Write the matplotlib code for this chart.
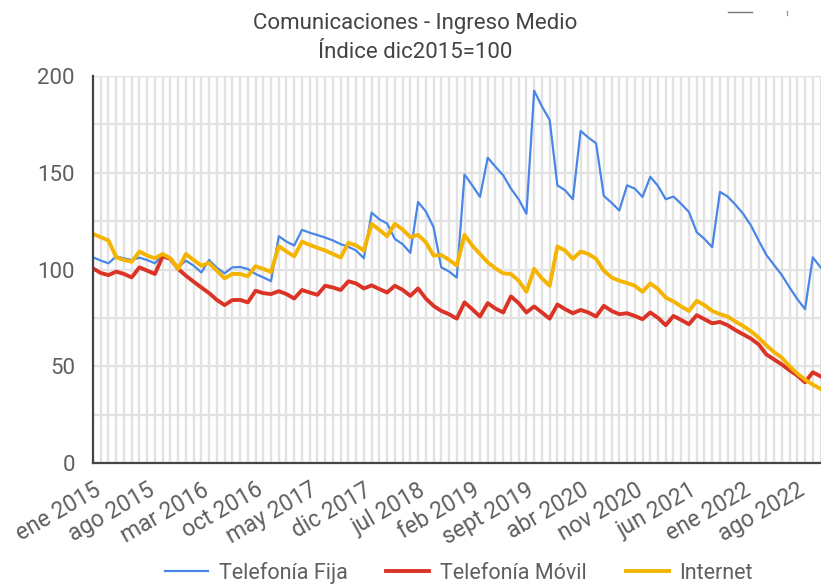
import numpy as np
import matplotlib
matplotlib.use("Agg")
import matplotlib.pyplot as plt
from matplotlib.lines import Line2D

plt.rcParams['font.family'] = ['Roboto', 'DejaVu Sans']

# Indice dic2015=100, mensual desde ene 2015
fija = [106.3, 104.6, 103.2, 106.8, 105.8, 104.9, 106.1, 104.9, 103.2, 107.5,
        105.5, 101.1, 104.6, 102.0, 98.5, 104.9, 100.9, 98.0, 101.1, 101.3,
        100.3, 97.7, 95.9, 94.0, 117.2, 114.4, 112.4, 120.5, 119.0, 117.8,
        116.5, 115.0, 113.1, 111.7, 109.8, 105.8, 129.4, 125.9, 123.8, 115.8,
        113.1, 108.6, 134.9, 130.0, 121.9, 101.1, 99.0, 95.8, 149.1, 143.5,
        137.5, 157.8, 153.1, 148.7, 141.8, 136.3, 128.8, 192.4, 184.3, 177.3,
        143.5, 140.9, 136.3, 171.6, 168.2, 165.2, 138.0, 134.5, 130.5, 143.5,
        141.8, 137.5, 147.9, 143.2, 136.3, 137.7, 133.9, 129.7, 119.3, 115.8,
        111.5, 140.1, 137.7, 133.5, 128.8, 122.8, 115.0, 107.5, 102.3, 97.1,
        90.7, 84.7, 79.5, 106.3, 101.1]

movil = [100.6, 98.2, 97.1, 98.9, 97.7, 95.9, 101.1, 99.4, 97.7, 106.8,
         105.5, 100.3, 96.8, 93.7, 90.7, 87.8, 84.3, 81.6, 84.2, 84.3,
         83.0, 89.0, 87.8, 87.3, 88.8, 87.3, 85.0, 89.4, 88.1, 86.9,
         91.6, 90.7, 89.4, 93.9, 92.8, 90.2, 91.8, 89.9, 88.1, 91.6,
         89.5, 86.4, 90.2, 85.0, 81.2, 78.6, 76.9, 74.6, 83.0, 79.5,
         75.7, 82.6, 79.8, 77.8, 86.1, 82.6, 77.8, 80.9, 77.8, 74.6,
         81.9, 79.5, 77.4, 79.1, 77.8, 75.7, 81.2, 78.6, 76.9, 77.4,
         76.0, 74.3, 77.8, 75.0, 71.2, 76.0, 73.9, 71.7, 76.4, 74.3,
         72.2, 72.9, 71.2, 68.7, 66.5, 64.3, 61.3, 56.1, 53.5, 50.9,
         47.9, 45.2, 41.7, 46.9, 44.8]

internet = [118.4, 116.7, 115.0, 106.3, 104.9, 104.0, 109.3, 107.2, 105.8, 108.0,
            105.8, 100.3, 108.0, 104.9, 102.0, 103.4, 99.4, 95.4, 97.7, 97.7,
            96.5, 101.7, 100.3, 98.7, 112.0, 109.3, 106.8, 114.4, 112.7, 111.2,
            109.8, 108.0, 106.2, 113.8, 112.4, 109.8, 123.6, 120.5, 117.2, 123.6,
            120.7, 116.7, 117.9, 114.1, 107.2, 107.5, 105.0, 102.0, 117.9, 112.4,
            108.0, 103.7, 100.6, 98.0, 97.7, 94.2, 88.5, 100.3, 95.4, 91.6,
            111.9, 109.8, 105.5, 109.3, 108.0, 105.5, 99.4, 95.9, 94.2, 93.0,
            91.6, 88.5, 92.8, 89.9, 85.5, 83.5, 80.9, 78.6, 83.8, 81.6,
            78.6, 76.9, 75.7, 73.1, 70.8, 68.1, 64.8, 60.8, 57.3, 54.4,
            50.0, 46.2, 43.1, 40.5, 38.3]

etiquetas = ['ene 2015', 'ago 2015', 'mar 2016', 'oct 2016', 'may 2017',
             'dic 2017', 'jul 2018', 'feb 2019', 'sept 2019', 'abr 2020',
             'nov 2020', 'jun 2021', 'ene 2022', 'ago 2022']

x = np.arange(len(fija))
gris = '#5f5f5f'

fig = plt.figure(figsize=(8.21, 5.88), dpi=100)
ax = fig.add_axes([93/821, 125/588, 1 - 93/821, (463 - 76)/588])

ax.plot(x, fija, color='#4a86e8', lw=1.6, label='Telefonía Fija', zorder=3)
ax.plot(x, movil, color='#db3427', lw=2.8, label='Telefonía Móvil', zorder=3)
ax.plot(x, internet, color='#f4b400', lw=2.8, label='Internet', zorder=4)

ax.set_xlim(0, 94.06)
ax.set_ylim(0, 200)

ax.set_xticks(np.arange(0, len(fija), 7))
ax.set_xticklabels(etiquetas, rotation=30, ha='right', va='top',
                   rotation_mode='anchor', fontsize=16.5, color=gris)
ax.set_xticks(x, minor=True)
ax.set_yticks([0, 50, 100, 150, 200])
ax.set_yticklabels(['0', '50', '100', '150', '200'], fontsize=16, color=gris)
ax.set_yticks([25, 75, 125, 175], minor=True)

ax.grid(True, which='both', color='#e2e2e2', lw=1.7, zorder=0)
ax.tick_params(axis='both', which='both', length=0)
ax.tick_params(axis='y', pad=13)
ax.tick_params(axis='x', pad=11)

for s in ['top', 'right']:
    ax.spines[s].set_visible(False)
for s in ['left', 'bottom']:
    ax.spines[s].set_color('#444444')
    ax.spines[s].set_linewidth(1.6)
    ax.spines[s].set_zorder(5)

fig.text(415/821, 1 - 23/588, 'Comunicaciones - Ingreso Medio', ha='center',
         va='center', fontsize=16, color='#444444')
fig.text(415/821, 1 - 52/588, 'Índice dic2015=100', ha='center',
         va='center', fontsize=16, color='#444444')

# restos de la paginacion de la leyenda arriba a la derecha
fig.add_artist(Line2D([728/821, 752/821], [1 - 12/588, 1 - 12/588],
                      color='#777777', lw=1))
fig.add_artist(Line2D([787/821, 787/821], [1 - 11/588, 1 - 15/588],
                      color='#999999', lw=1))

fig.legend(loc='center', bbox_to_anchor=(459/821, 1 - 573/588), ncol=3,
           frameon=False, fontsize=15.5, handlelength=2.0, handletextpad=0.5,
           columnspacing=1.8, labelcolor=gris)

fig.savefig('out.png', dpi=100)
